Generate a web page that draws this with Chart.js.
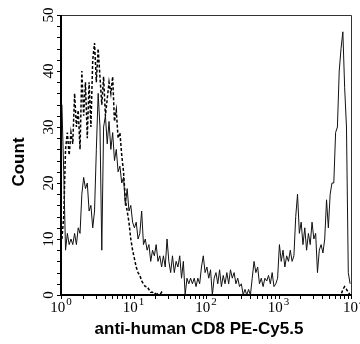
<!DOCTYPE html>
<html><head><meta charset="utf-8">
<script src="https://cdn.jsdelivr.net/npm/chart.js@4.4.0/dist/chart.umd.min.js"></script>
<style>html,body{margin:0;padding:0;background:#fff}#wrap{width:360px;height:344px;position:relative}</style>
</head><body><div id="wrap"><canvas id="c" width="360" height="344"></canvas></div>
<script>
const channelsPerDecade = 40;
const solidCounts = [
  34,22,8,11,9,10,9,11,9,12,
  11,18,21,19,20,15,16,12,15,26,
  36,30,8,30,32,27,31,26,29,24,
  26,22,23,20,21,16,19,15,16,13,
  12,13,10,11,15,9,10,8,9,6,
  8,7,9,6,7,5,7,5,10,6,
  4,7,4,6,5,7,3,6,0,3,
  2,3,2,3,1.5,3,2,5,7,4,
  5,3,4.5,0,3,4,2,4.5,1.5,3.5,
  2,4,2,4.5,3,4,2,3,1.5,2,
  0,1,0,1,0,3,6,4,5,2,
  3,1.5,3,2.5,3.5,2,4,1.5,2,3,
  9,6,8,5,7,6,8,6,7,14,
  18,11,13,9,12,8,11,9,13,10,
  11,4,8,9,7.5,10,17,12,18,20,
  20,29,30,40,44,47,37,30,4,2
];
const dottedCounts = [
  10,14,26,29,25,29,27,36,30,33,
  26,40,32,38,28,38,30,42,45,38,
  44,39,34,39,32,35,38,36,39,31,
  33,28,29,25,22,17,15,13,10,8,
  6.5,5,4,3.5,2.5,2,1.5,1.5,1,0.5,
  0.5,0,0.5,0,0,0.5,0,0,0,0,
  0,0,0,0,0,0,0,0,0,0,
  0,0,0,0,0,0,0,0,0,0,
  0,0,0,0,0,0,0,0,0,0,
  0,0,0,0,0,0,0,0,0,0,
  0,0,0,0,0,0,0,0,0,0,
  0,0,0,0,0,0,0,0,0,0,
  0,0,0,0,0,0,0,0,0,0,
  0,0,0,0,0,0,0,0,0,0,
  0,0,0,0,0,0,0,0,0,0,
  0,0,0,0,0,1,1.5,1,0.5,0
];
const xTickValues = [1, 10, 100, 1000, 10000];
const xTickBase = '10';
const xTickExponents = ['0', '1', '2', '3', '4'];
const yTickValues = [0, 10, 20, 30, 40, 50];
const yTickLabels = ['0', '10', '20', '30', '40', '50'];
const yMinorStep = 2;
const xTitle = 'anti-human CD8 PE-Cy5.5';
const yTitle = 'Count';

function toPoints(arr) {
  return arr.map((v, i) => ({ x: Math.pow(10, (i + 0.5) / channelsPerDecade), y: v }));
}

const framePlugin = {
  id: 'frame',
  afterDatasetsDraw(chart) {
    const ctx = chart.ctx;
    const xs = chart.scales.x, ys = chart.scales.y;
    const a = chart.chartArea;
    ctx.save();
    ctx.strokeStyle = '#333';
    ctx.lineWidth = 1;
    ctx.beginPath();
    ctx.moveTo(a.left, a.top + 0.5);
    ctx.lineTo(a.right + 0.5, a.top + 0.5);
    ctx.lineTo(a.right + 0.5, a.bottom);
    ctx.stroke();
    ctx.strokeStyle = '#000';
    ctx.lineWidth = 2;
    ctx.beginPath();
    ctx.moveTo(a.left, a.top);
    ctx.lineTo(a.left, a.bottom);
    ctx.lineTo(a.right + 1, a.bottom);
    ctx.stroke();
    ctx.lineWidth = 1;
    ctx.beginPath();
    for (let v = ys.min; v <= ys.max + 0.001; v += yMinorStep) {
      const y = Math.round(ys.getPixelForValue(v)) + 0.5;
      ctx.moveTo(a.left - 4, y);
      ctx.lineTo(a.left, y);
    }
    for (let d = 0; d < xTickValues.length; d++) {
      const base = xTickValues[d];
      for (let m = 1; m <= 9; m++) {
        const v = base * m;
        if (v > xs.max + 0.001) break;
        const x = Math.round(xs.getPixelForValue(v)) + 0.5;
        ctx.moveTo(x, a.bottom);
        ctx.lineTo(x, a.bottom + 4);
      }
    }
    ctx.stroke();
    ctx.fillStyle = '#000';
    ctx.font = '15px "Liberation Serif", serif';
    ctx.textAlign = 'center';
    ctx.textBaseline = 'alphabetic';
    yTickValues.forEach((v, i) => {
      const y = ys.getPixelForValue(v);
      ctx.save();
      ctx.translate(a.left - 8, y);
      ctx.rotate(-Math.PI / 2);
      ctx.fillText(yTickLabels[i], 0, 0);
      ctx.restore();
    });
    ctx.textAlign = 'left';
    xTickValues.forEach((v, i) => {
      const px = xs.getPixelForValue(v);
      ctx.font = '15px "Liberation Serif", serif';
      const w1 = ctx.measureText(xTickBase).width;
      ctx.font = '11px "Liberation Serif", serif';
      const w2 = ctx.measureText(xTickExponents[i]).width;
      let start = px - (w1 + w2 + 1) / 2;
      if (i === xTickValues.length - 1) start = px - 8;
      ctx.font = '15px "Liberation Serif", serif';
      ctx.fillText(xTickBase, start, a.bottom + 17);
      ctx.font = '11px "Liberation Serif", serif';
      ctx.fillText(xTickExponents[i], start + w1 + 1, a.bottom + 10);
    });
    ctx.font = 'bold 17px "Liberation Sans", Arial, sans-serif';
    ctx.textAlign = 'center';
    ctx.fillText(xTitle, 199, 334);
    ctx.save();
    ctx.translate(24, 162);
    ctx.rotate(-Math.PI / 2);
    ctx.fillText(yTitle, 0, 0);
    ctx.restore();
    ctx.restore();
  }
};

new Chart(document.getElementById('c'), {
  type: 'line',
  data: {
    datasets: [
      {
        label: 'solid',
        data: toPoints(solidCounts),
        borderColor: '#111',
        borderWidth: 1,
        pointRadius: 0,
        tension: 0,
        fill: false
      },
      {
        label: 'dotted',
        data: toPoints(dottedCounts),
        borderColor: '#000',
        borderWidth: 1.5,
        borderDash: [3, 2],
        pointRadius: 0,
        tension: 0,
        fill: false
      }
    ]
  },
  options: {
    responsive: false,
    animation: false,
    devicePixelRatio: 1,
    layout: { padding: { left: 61, right: 9, top: 15, bottom: 49 } },
    plugins: { legend: { display: false }, tooltip: { enabled: false } },
    scales: {
      x: { type: 'logarithmic', min: 1, max: 10000, display: false },
      y: { type: 'linear', min: 0, max: 50, display: false }
    }
  },
  plugins: [framePlugin]
});
</script>
</body></html>
